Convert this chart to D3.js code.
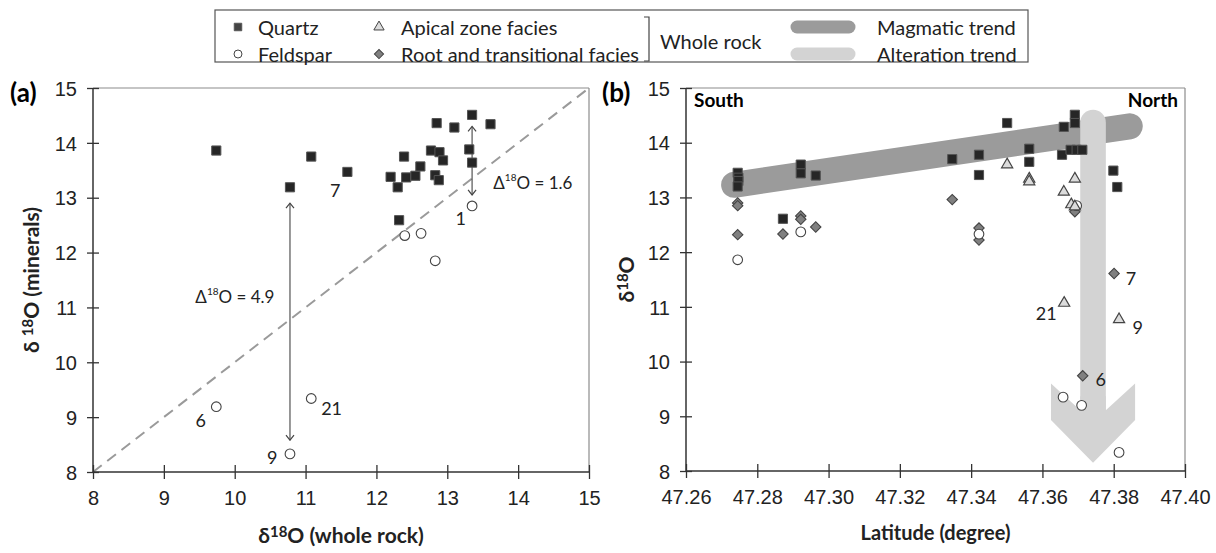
<!DOCTYPE html>
<html>
<head>
<meta charset="utf-8">
<script src="https://cdn.jsdelivr.net/npm/d3@7"></script>
<style>
  body { margin: 0; background: #fff; }
  svg { font-family: Lato, "Open Sans", sans-serif; }
  .axis path { display: none; }
  .axis text { font-size: 20px; fill: #222; }
  .axis line { stroke: #333; stroke-width: 1.3; }
</style>
</head>
<body>
<svg id="chart" width="1216" height="553"></svg>
<script>
// ---- data (a): whole rock vs minerals
var quartzA = [[9.74,13.86],[10.78,13.19],[11.08,13.75],[11.59,13.47],[12.20,13.38],[12.30,13.19],
  [12.32,12.59],[12.39,13.75],[12.42,13.37],[12.55,13.40],[12.62,13.57],[12.77,13.86],[12.83,13.41],
  [12.85,14.36],[12.88,13.32],[12.89,13.83],[12.94,13.68],[13.10,14.28],[13.31,13.88],[13.35,13.64],
  [13.35,14.51],[13.61,14.34]];
var feldsparA = [[9.74,9.19],[10.78,8.33],[11.08,9.34],[12.40,12.31],[12.63,12.35],[12.83,11.85],[13.35,12.85]];
var arrowsA = [[13.35,14.30,13.05],[10.78,12.90,8.58]];
var labelsA = [["7",11.42,13.14,"middle"],["1",13.19,12.63,"middle"],["6",9.52,8.95,"middle"],
  ["21",11.22,9.16,"start"],["9",10.53,8.28,"middle"]];
var deltaLabelsA = [["1.6",13.65,13.29,"start"],["4.9",10.56,11.2,"end"]];

// ---- data (b): latitude
var quartzB = [[47.2745,13.45],[47.2747,13.36],[47.2747,13.30],[47.2745,13.20],[47.2872,12.61],
  [47.2922,13.60],[47.2922,13.44],[47.2964,13.40],[47.3347,13.70],[47.3422,13.78],[47.3422,13.41],
  [47.3501,14.36],[47.3563,13.89],[47.3563,13.65],[47.3655,13.78],[47.3660,14.29],[47.3679,13.87],
  [47.3691,14.51],[47.3691,14.36],[47.3696,13.87],[47.3712,13.87],[47.3799,13.49],[47.3810,13.19]];
var feldsparB = [[47.2745,11.86],[47.2922,12.37],[47.3422,12.33],[47.3658,9.35],[47.3696,12.85],
  [47.3710,9.20],[47.3815,8.34]];
var apicalB = [[47.3501,13.60],[47.3563,13.34],[47.3563,13.29],[47.3660,13.10],[47.3691,13.34],
  [47.3681,12.87],[47.3691,12.83],[47.3661,11.07],[47.3815,10.77]];
var rootB = [[47.2745,12.90],[47.2745,12.85],[47.2745,12.32],[47.2872,12.33],[47.2922,12.66],
  [47.2922,12.60],[47.2964,12.46],[47.3347,12.96],[47.3422,12.44],[47.3422,12.22],[47.3691,12.74],
  [47.3801,11.61],[47.3713,9.74]];
var labelsB = [["7",47.3834,11.53,"start"],["21",47.364,10.89,"end"],["9",47.3853,10.63,"start"],["6",47.3749,9.68,"start"]];
var magmaticTrend = [[47.2735,13.23],[47.3845,14.30]];
// alteration arrow: x centre, shaft top, shoulder, wing top, wing bottom, tip, head half-width
var alteration = {x: 47.3742, top: 14.37, shoulder: 9.11, wingTop: 9.60, wingBottom: 8.93, tip: 8.15, half: 0.0118};

var ticksA = [8,9,10,11,12,13,14,15];
var ticksLat = [47.26,47.28,47.30,47.32,47.34,47.36,47.38,47.40];

var svg = d3.select('#chart');

var xa = d3.scaleLinear().domain([8,15]).range([93,589]);
var ya = d3.scaleLinear().domain([8,15]).range([472,88]);
var xb = d3.scaleLinear().domain([47.26,47.40]).range([686,1185]);
var yb = d3.scaleLinear().domain([8,15]).range([471,88]);

// marker shapes
var sq = d3.symbol().type(d3.symbolSquare).size(84);
var sqSmall = d3.symbol().type(d3.symbolSquare).size(56);
var circ = d3.symbol().type(d3.symbolCircle).size(74);
var tri = d3.symbol().type(d3.symbolTriangle).size(54);
var dia = d3.symbol().type(d3.symbolSquare).size(54);

function drawPoints(g, data, x, y, kind) {
  var sel = g.selectAll(null).data(data).enter().append('path')
    .attr('transform', d => 'translate(' + x(d[0]) + ',' + y(d[1]) + ')' + (kind == 'dia' ? ' rotate(45)' : ''));
  if (kind == 'sq') sel.attr('d', sq).attr('fill', '#262626').attr('stroke', '#555').attr('stroke-width', 1);
  if (kind == 'circ') sel.attr('d', circ).attr('fill', '#fff').attr('stroke', '#444').attr('stroke-width', 1.1);
  if (kind == 'tri') sel.attr('d', tri).attr('fill', '#dcdcdc').attr('stroke', '#444').attr('stroke-width', 1.2);
  if (kind == 'dia') sel.attr('d', dia).attr('fill', '#808080').attr('stroke', '#444').attr('stroke-width', 1.1);
}

function drawFrame(g, x, y, xTicks, fmt) {
  var x0 = x.range()[0], x1 = x.range()[1], y0 = y.range()[0], y1 = y.range()[1];
  g.append('line').attr('x1', x0).attr('x2', x1).attr('y1', y1).attr('y2', y1).attr('stroke', '#8c8c8c').attr('stroke-width', 1.2);
  g.append('line').attr('x1', x1).attr('x2', x1).attr('y1', y0).attr('y2', y1).attr('stroke', '#8c8c8c').attr('stroke-width', 1.2);

  var ax = g.append('g').attr('class', 'axis').attr('transform', 'translate(0,' + y0 + ')')
    .call(d3.axisBottom(x).tickValues(xTicks).tickFormat(fmt).tickSize(7).tickPadding(12));
  ax.selectAll('.tick line').attr('y1', -7);
  var ay = g.append('g').attr('class', 'axis').attr('transform', 'translate(' + x0 + ',0)')
    .call(d3.axisLeft(y).tickValues(ticksA).tickFormat(d3.format('d')).tickSize(6).tickPadding(10));
  ay.selectAll('.tick line').attr('x1', 6);
  ay.selectAll('.tick text').attr('dy', '0.36em');
  g.append('line').attr('x1', x0).attr('x2', x1).attr('y1', y0).attr('y2', y0).attr('stroke', '#333').attr('stroke-width', 1.5);
  g.append('line').attr('x1', x0).attr('x2', x0).attr('y1', y0).attr('y2', y1).attr('stroke', '#333').attr('stroke-width', 1.5);
}

// ---------- panel (a)
var ga = svg.append('g');
ga.append('line')
  .attr('x1', xa(8)).attr('y1', ya(8)).attr('x2', xa(15)).attr('y2', ya(15))
  .attr('stroke', '#9a9a9a').attr('stroke-width', 2).attr('stroke-dasharray', '11,7');
drawFrame(ga, xa, ya, ticksA, d3.format('d'));

svg.append('defs').append('marker')
  .attr('id', 'chev').attr('viewBox', '-7 -6 8 12').attr('markerWidth', 8).attr('markerHeight', 12)
  .attr('markerUnits', 'userSpaceOnUse').attr('refX', 0).attr('refY', 0).attr('orient', 'auto-start-reverse')
  .append('path').attr('d', 'M-5,-4L0,0L-5,4').attr('fill', 'none').attr('stroke', '#444').attr('stroke-width', 1.2);

ga.selectAll(null).data(arrowsA).enter().append('line')
  .attr('x1', d => xa(d[0])).attr('x2', d => xa(d[0]))
  .attr('y1', d => ya(d[1])).attr('y2', d => ya(d[2]))
  .attr('stroke', '#444').attr('stroke-width', 1.1)
  .attr('marker-start', 'url(#chev)').attr('marker-end', 'url(#chev)');

drawPoints(ga, feldsparA, xa, ya, 'circ');
drawPoints(ga, quartzA, xa, ya, 'sq');

ga.selectAll(null).data(labelsA).enter().append('text')
  .attr('x', d => xa(d[1])).attr('y', d => ya(d[2])).attr('text-anchor', d => d[3])
  .attr('dominant-baseline', 'central').style('font-size', '18px').attr('fill', '#222').text(d => d[0]);

var dl = ga.selectAll(null).data(deltaLabelsA).enter().append('text')
  .attr('x', d => xa(d[1])).attr('y', d => ya(d[2])).attr('text-anchor', d => d[3])
  .attr('dominant-baseline', 'central').style('font-size', '17px').attr('fill', '#222');
dl.append('tspan').text('Δ');
dl.append('tspan').attr('dy', -5).style('font-size', '10px').text('18');
dl.append('tspan').attr('dy', 5).text(d => 'O = ' + d[0]);

ga.append('text').attr('x', 10).attr('y', 102).style('font-size', '26px').style('font-weight', 'bold').text('(a)');

var xta = ga.append('text').attr('x', (xa(8) + xa(15)) / 2).attr('y', 543).attr('text-anchor', 'middle')
  .style('font-size', '21px').style('font-weight', 'bold').attr('fill', '#222');
xta.append('tspan').text('δ');
xta.append('tspan').attr('dy', -6).style('font-size', '15px').text('18');
xta.append('tspan').attr('dy', 6).text('O (whole rock)');

var yta = ga.append('text').attr('transform', 'translate(39,' + ((ya(8) + ya(15)) / 2) + ') rotate(-90)')
  .attr('text-anchor', 'middle').style('font-size', '21px').style('font-weight', 'bold').attr('fill', '#222');
yta.append('tspan').text('δ ');
yta.append('tspan').attr('dy', -6).style('font-size', '15px').text('18');
yta.append('tspan').attr('dy', 6).text('O (minerals)');

// ---------- panel (b)
var gb = svg.append('g');
drawFrame(gb, xb, yb, ticksLat, d3.format('.2f'));

gb.append('line')
  .attr('x1', xb(magmaticTrend[0][0])).attr('y1', yb(magmaticTrend[0][1]))
  .attr('x2', xb(magmaticTrend[1][0])).attr('y2', yb(magmaticTrend[1][1]))
  .attr('stroke', '#9b9b9b').attr('stroke-width', 26).attr('stroke-linecap', 'round');

var ax0 = xb(alteration.x), sw = 12.8, hw = xb(alteration.x + alteration.half) - ax0;
gb.append('line')
  .attr('x1', ax0).attr('x2', ax0).attr('y1', yb(alteration.top)).attr('y2', yb(alteration.shoulder))
  .attr('stroke', '#d3d3d3').attr('stroke-width', sw * 2).attr('stroke-linecap', 'round');
gb.append('path')
  .attr('d', d3.line()([
    [ax0 - sw, yb(alteration.shoulder) - 14], [ax0 - sw, yb(alteration.shoulder)],
    [ax0 - hw, yb(alteration.wingTop)], [ax0 - hw, yb(alteration.wingBottom)],
    [ax0, yb(alteration.tip)],
    [ax0 + hw, yb(alteration.wingBottom)], [ax0 + hw, yb(alteration.wingTop)],
    [ax0 + sw, yb(alteration.shoulder)], [ax0 + sw, yb(alteration.shoulder) - 14]]) + 'Z')
  .attr('fill', '#d3d3d3');

drawPoints(gb, rootB, xb, yb, 'dia');
drawPoints(gb, feldsparB, xb, yb, 'circ');
drawPoints(gb, apicalB, xb, yb, 'tri');
drawPoints(gb, quartzB, xb, yb, 'sq');

gb.selectAll(null).data(labelsB).enter().append('text')
  .attr('x', d => xb(d[1])).attr('y', d => yb(d[2])).attr('text-anchor', d => d[3])
  .attr('dominant-baseline', 'central').style('font-size', '18px').attr('fill', '#222').text(d => d[0]);

gb.append('text').attr('x', 694).attr('y', 107).style('font-size', '19px').style('font-weight', 'bold').text('South');
gb.append('text').attr('x', 1178).attr('y', 107).attr('text-anchor', 'end').style('font-size', '19px').style('font-weight', 'bold').text('North');
gb.append('text').attr('x', 602).attr('y', 102).style('font-size', '26px').style('font-weight', 'bold').text('(b)');

gb.append('text').attr('x', (xb.range()[0] + xb.range()[1]) / 2).attr('y', 540).attr('text-anchor', 'middle')
  .style('font-size', '20px').style('font-weight', 'bold').attr('fill', '#222').text('Latitude (degree)');

var ytb = gb.append('text').attr('transform', 'translate(634,' + ((yb(8) + yb(15)) / 2) + ') rotate(-90)')
  .attr('text-anchor', 'middle').style('font-size', '21px').style('font-weight', 'bold').attr('fill', '#222');
ytb.append('tspan').text('δ');
ytb.append('tspan').attr('dy', -6).style('font-size', '15px').text('18');
ytb.append('tspan').attr('dy', 6).text('O');

// ---------- legend
var lg = svg.append('g');
lg.append('rect').attr('x', 215).attr('y', 10).attr('width', 813).attr('height', 52)
  .attr('fill', '#fff').attr('stroke', '#555').attr('stroke-width', 1.2);
var row1 = 27, row2 = 54;
lg.append('path').attr('d', sqSmall).attr('transform', 'translate(238,' + row1 + ')').attr('fill', '#444').attr('stroke', '#555');
lg.append('path').attr('d', d3.symbol().type(d3.symbolCircle).size(50)).attr('transform', 'translate(238,' + row2 + ')')
  .attr('fill', '#fff').attr('stroke', '#444');
lg.append('path').attr('d', d3.symbol().type(d3.symbolTriangle).size(46)).attr('transform', 'translate(379,' + row1 + ')')
  .attr('fill', '#dcdcdc').attr('stroke', '#444');
lg.append('path').attr('d', d3.symbol().type(d3.symbolSquare).size(42)).attr('transform', 'translate(379,' + row2 + ') rotate(45)')
  .attr('fill', '#808080').attr('stroke', '#444');
var legendText = [["Quartz",258,row1],["Feldspar",258,row2],["Apical zone facies",401,row1],
  ["Root and transitional facies",401,row2],["Whole rock",660,41],["Magmatic trend",877,row1],["Alteration trend",877,row2]];
lg.selectAll(null).data(legendText).enter().append('text')
  .attr('x', d => d[1]).attr('y', d => d[2]).attr('dominant-baseline', 'central')
  .style('font-size', '20px').attr('fill', '#222').text(d => d[0]);
lg.append('path').attr('d', 'M644,17H649V61H644').attr('fill', 'none').attr('stroke', '#444').attr('stroke-width', 1.2);
lg.append('line').attr('x1', 797).attr('x2', 849).attr('y1', row1).attr('y2', row1)
  .attr('stroke', '#9b9b9b').attr('stroke-width', 13).attr('stroke-linecap', 'round');
lg.append('line').attr('x1', 797).attr('x2', 849).attr('y1', row2).attr('y2', row2)
  .attr('stroke', '#d3d3d3').attr('stroke-width', 13).attr('stroke-linecap', 'round');
</script>
</body>
</html>
